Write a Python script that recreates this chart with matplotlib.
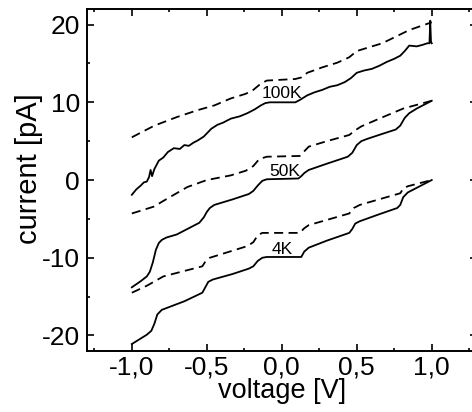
import numpy as np
import matplotlib
matplotlib.use("Agg")
import matplotlib.pyplot as plt
from matplotlib.ticker import MultipleLocator, FuncFormatter

plt.rcParams['font.family'] = ['Liberation Sans', 'DejaVu Sans']

# 100K, solid (measured) and dashed
v_100s = [-1.0, -0.97, -0.94, -0.92, -0.9, -0.885, -0.875, -0.865, -0.85, -0.82, -0.79, -0.76, -0.72,
          -0.68, -0.65, -0.62, -0.59, -0.56, -0.52, -0.47, -0.43, -0.39, -0.34, -0.28, -0.23, -0.18,
          -0.14, -0.11, -0.08, 0.0, 0.09, 0.12, 0.17, 0.22, 0.27, 0.32, 0.37, 0.42, 0.46, 0.5, 0.55, 0.6, 0.65,
          0.7, 0.75, 0.79, 0.82, 0.85, 0.9, 0.94, 0.97, 0.985, 0.99, 0.995, 1.0]
i_100s = [-1.9, -1.2, -0.7, -0.3, -0.2, 0.4, 1.3, 0.5, 1.4, 2.5, 2.9, 3.6, 4.1,
          4.0, 4.5, 4.4, 4.8, 5.1, 5.6, 6.6, 7.1, 7.4, 7.9, 8.2, 8.6, 9.1,
          9.6, 9.9, 10.0, 10.0, 10.0, 10.3, 10.9, 11.3, 11.6, 12.0, 12.2, 12.6, 13.1, 13.8, 14.1, 14.3, 14.7,
          15.2, 15.6, 16.0, 16.6, 17.3, 17.2, 17.4, 17.6, 17.6, 20.5, 17.8, 17.6]
v_100d = [-1.0, -0.85, -0.7, -0.56, -0.45, -0.34, -0.24, -0.19, -0.14, -0.1, 0.09, 0.13, 0.17, 0.27, 0.37,
          0.45, 0.5, 0.67, 0.85, 1.0]
i_100d = [5.5, 7.0, 8.1, 9.0, 9.6, 10.5, 11.1, 11.6, 12.4, 12.8, 13.0, 13.2, 13.8, 14.5, 15.1,
          15.8, 16.6, 17.6, 19.3, 20.3]

# 50K
v_50s = [-1.0, -0.94, -0.9, -0.88, -0.86, -0.84, -0.82, -0.8, -0.77, -0.7, -0.61, -0.55, -0.52, -0.5,
         -0.48, -0.45, -0.33, -0.22, -0.19, -0.16, -0.13, -0.1, 0.11, 0.13, 0.15, 0.18, 0.3, 0.44,
         0.47, 0.5, 0.53, 0.57, 0.68, 0.76, 0.79, 0.82, 0.85, 0.9, 1.0]
i_50s = [-13.8, -13.0, -12.4, -11.8, -10.6, -9.0, -8.1, -7.7, -7.4, -7.0, -6.1, -5.5, -4.8, -4.1,
         -3.6, -3.2, -2.5, -1.8, -1.4, -0.7, -0.1, 0.1, 0.2, 0.5, 0.9, 1.3, 2.1, 3.0,
         3.5, 4.5, 5.0, 5.3, 6.0, 6.5, 7.0, 8.0, 8.6, 9.2, 10.2]
v_50d = [-1.0, -0.85, -0.8, -0.63, -0.5, -0.34, -0.24, -0.19, -0.15, -0.1, 0.12, 0.15, 0.18, 0.3, 0.45,
         0.49, 0.53, 0.65, 0.81, 1.0]
i_50d = [-4.3, -3.4, -2.8, -0.9, 0.0, 0.6, 1.2, 1.8, 2.7, 3.0, 3.1, 3.7, 4.3, 5.0, 5.8,
         6.4, 6.9, 7.9, 9.2, 10.2]

# 4K
v_4s = [-1.0, -0.9, -0.87, -0.85, -0.83, -0.8, -0.65, -0.53, -0.51, -0.49, -0.46, -0.33, -0.22,
        -0.19, -0.16, -0.13, -0.1, 0.13, 0.15, 0.18, 0.3, 0.45, 0.47, 0.49, 0.52, 0.65, 0.77,
        0.79, 0.81, 0.84, 0.87, 1.0]
i_4s = [-21.1, -19.9, -19.4, -18.5, -17.3, -16.7, -15.6, -14.5, -13.8, -13.1, -12.8, -12.1, -11.4,
        -11.1, -10.4, -10.0, -9.9, -9.9, -9.2, -8.7, -7.8, -6.8, -6.3, -5.6, -5.3, -4.4, -3.6,
        -3.2, -2.2, -1.6, -1.3, 0.0]
v_4d = [-1.0, -0.9, -0.79, -0.53, -0.51, -0.48, -0.23, -0.19, -0.16, -0.13, 0.12, 0.15, 0.18, 0.45,
        0.48, 0.52, 0.79, 0.81, 0.84, 1.0]
i_4d = [-14.5, -13.6, -12.4, -11.1, -10.5, -10.0, -8.5, -8.0, -7.1, -6.8, -6.8, -6.2, -5.8, -4.3,
        -3.6, -3.2, -1.7, -1.1, -0.8, 0.0]

labels = ['100K', '50K', '4K']
label_pos = [(0.0, 11.1), (0.02, 1.1), (0.0, -8.9)]

fig = plt.figure(figsize=(4.72, 4.12), dpi=100)
ax = fig.add_axes([0.184, 0.148, 0.826, 0.830])

for v, i in [(v_100s, i_100s), (v_50s, i_50s), (v_4s, i_4s)]:
    ax.plot(v, i, color='black', lw=1.3)
for v, i in [(v_100d, i_100d), (v_50d, i_50d), (v_4d, i_4d)]:
    ax.plot(v, i, color='black', lw=1.3, ls=(0, (5, 3)))

for lab, (x, y) in zip(labels, label_pos):
    ax.text(x, y, lab, fontsize=12.5, ha='center', va='center')

ax.set_xlim(-1.3, 1.3)
ax.set_ylim(-22, 22)
ax.xaxis.set_major_locator(MultipleLocator(0.5))
ax.xaxis.set_minor_locator(MultipleLocator(0.25))
ax.yaxis.set_major_locator(MultipleLocator(10))
ax.yaxis.set_minor_locator(MultipleLocator(5))
ax.xaxis.set_major_formatter(FuncFormatter(lambda v, p: f"{v:.1f}".replace('.', ',').replace('-0,0', '0,0')))
ax.yaxis.set_major_formatter(FuncFormatter(lambda v, p: f"{v:.0f}"))
ax.tick_params(which='both', direction='in', top=True, right=True, width=1.2, labelsize=19)
ax.tick_params(which='major', length=5)
ax.tick_params(which='minor', length=2.5)
ax.tick_params(axis='y', pad=5)
ax.tick_params(axis='x', pad=3)
for s in ax.spines.values():
    s.set_linewidth(1.4)

ax.set_xlabel('voltage [V]', fontsize=19.5, labelpad=-1)
ax.set_ylabel('current [pA]', fontsize=21)
ax.yaxis.set_label_coords(-0.113, 0.532)

fig.savefig('out.png', dpi=100)
